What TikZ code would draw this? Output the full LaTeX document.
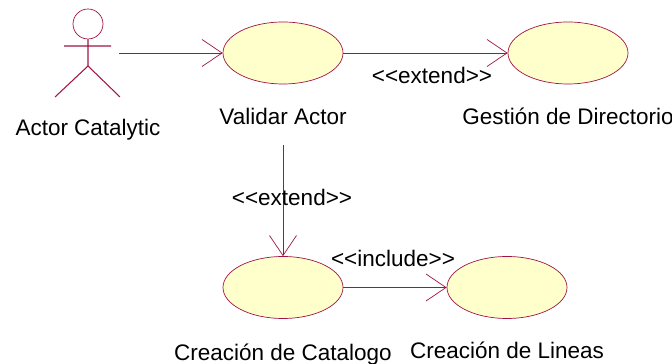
\documentclass[tikz,border=0pt]{standalone}
\usepackage{fontspec}
\newfontfamily\umlfont{Liberation Sans}
\usetikzlibrary{shapes.geometric}
\usetikzlibrary{arrows.meta}
\definecolor{umlline}{RGB}{160,20,70}
\definecolor{umlfill}{RGB}{255,255,203}

\begin{document}
\begin{tikzpicture}
    % ================= styles =================
    \tikzset{
        % use case
        usecase/.style={ellipse, draw=umlline, thin, fill=umlfill, minimum width=2.4cm, minimum height=1.24cm, inner sep=0pt},
        % actor figure
        actor_line/.style={draw=umlline, semithick},
        % open arrow between elements
        assoc/.style={umlline, thin, -{Straight Barb[length=4mm, width=5.4mm]}},
        % text
        caption/.style={font=\umlfont\fontsize{12.8}{15}\selectfont, text=black, inner sep=0pt}
    }

    \useasboundingbox (0,0) rectangle (13.44,7.28);

    % ================= actor =================
    \coordinate (hip) at (1.76,5.96);
    \coordinate (arm_l) at (1.28,6.36);
    \coordinate (arm_r) at (2.22,6.36);
    \coordinate (foot_l) at (1.10,5.34);
    \coordinate (foot_r) at (2.40,5.34);
    \coordinate (actor_out) at (2.38,6.22);
    \coordinate (validar_out) at (5.66,4.38);

    \node[circle, draw=umlline, thin, minimum size=6mm, inner sep=0pt] (head) at (1.76,6.8) {};
    \draw[actor_line] (head.south)--(hip) (arm_l)--(arm_r) (foot_l)--(hip)--(foot_r);

    % ================= use cases =================
    \node[usecase] (validar) at (5.66,6.22) {};
    \node[usecase] (gestion) at (11.36,6.22) {};
    \node[usecase] (catalogo) at (5.66,1.53) {};
    \node[usecase] (lineas) at (10.14,1.53) {};

    % ================= connectors =================
    \draw[assoc] (actor_out)--(validar.west);
    \draw[assoc] (validar.east)--(gestion.west);
    \draw[assoc] (validar_out)--(catalogo.north);
    \draw[assoc] (catalogo.east)--(lineas.west);

    % ================= labels =================
    \node[caption] (actor_txt) at (1.76,4.68) {Actor Catalytic};
    \node[caption] (validar_txt) at (5.66,4.96) {Validar Actor};
    \node[caption] (gestion_txt) at (11.36,4.96) {Gestión de Directorio};
    \node[caption] (catalogo_txt) at (5.66,0.19) {Creación de Catalogo};
    \node[caption] (lineas_txt) at (10.14,0.27) {Creación de Lineas};
    \node[caption] (extend_a) at (8.64,5.78) {<<extend>>};
    \node[caption] (extend_b) at (5.84,3.34) {<<extend>>};
    \node[caption] (include) at (7.86,2.12) {<<include>>};
\end{tikzpicture}
\end{document}
